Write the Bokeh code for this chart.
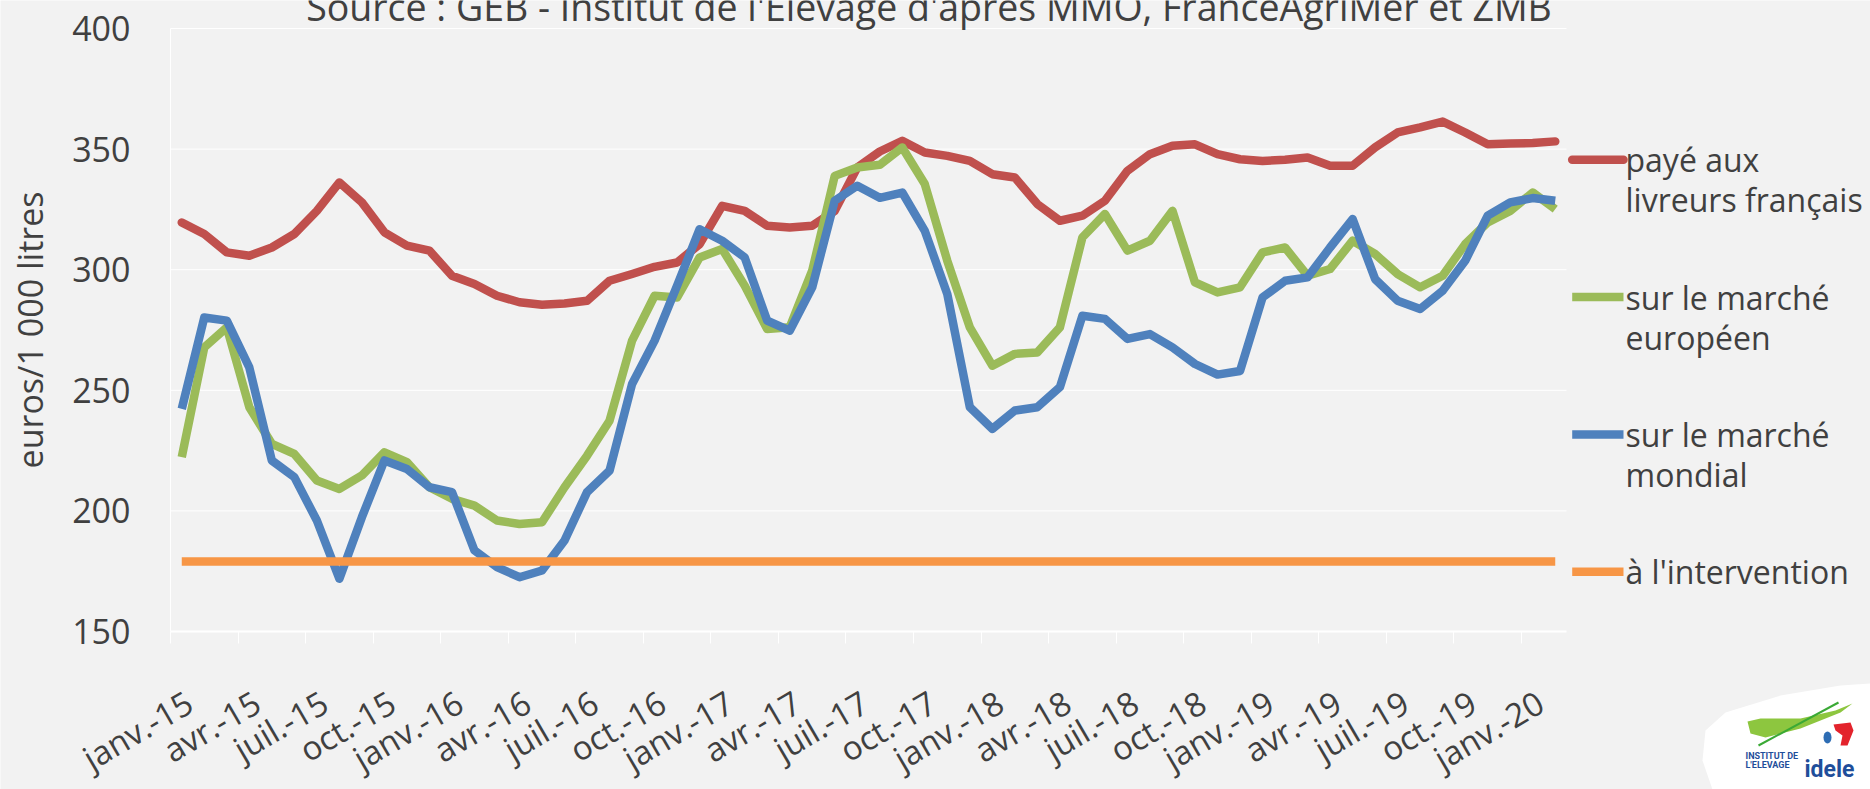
from bokeh.plotting import figure
from bokeh.models import Range1d, FixedTicker
from bokeh.core.properties import value
from bokeh.embed import file_html
from bokeh.resources import INLINE

# ---------------- data ----------------
tick_labels = ["janv.-15", "avr.-15", "juil.-15", "oct.-15",
               "janv.-16", "avr.-16", "juil.-16", "oct.-16",
               "janv.-17", "avr.-17", "juil.-17", "oct.-17",
               "janv.-18", "avr.-18", "juil.-18", "oct.-18",
               "janv.-19", "avr.-19", "juil.-19", "oct.-19",
               "janv.-20"]

paye_livreurs = [319.6, 314.8, 307.2, 305.8, 309.2, 314.8, 324.4, 336.2, 327.9, 315.5,
                 310.0, 307.9, 297.5, 294.1, 289.2, 286.5, 285.5, 286.0, 287.1, 295.4,
                 298.2, 301.2, 303.0, 310.6, 326.5, 324.4, 318.2, 317.5, 318.2, 324.4,
                 342.4, 349.0, 353.4, 348.6, 347.2, 345.1, 339.6, 338.2, 327.2, 320.3,
                 322.4, 328.6, 341.0, 347.9, 351.4, 352.0, 347.9, 345.8, 345.1, 345.6,
                 346.5, 343.1, 343.1, 350.7, 356.9, 359.0, 361.4, 356.9, 352.0, 352.3,
                 352.5, 353.2]

marche_europeen = [222.3, 267.8, 276.1, 243.0, 227.8, 223.6, 212.6, 209.1, 214.7, 224.3,
                   220.2, 209.8, 205.0, 202.2, 196.0, 194.6, 195.3, 209.8, 222.9, 237.4,
                   270.6, 289.2, 288.5, 305.1, 308.6, 293.4, 275.4, 276.1, 299.6, 338.9,
                   342.4, 343.5, 350.7, 335.5, 303.7, 276.1, 260.2, 265.1, 265.7, 276.1,
                   313.4, 323.1, 307.9, 312.0, 324.4, 294.7, 290.6, 292.7, 307.2, 309.2,
                   297.5, 300.3, 312.0, 306.5, 298.2, 292.7, 297.5, 310.6, 319.6, 324.4,
                   332.0, 325.1]

marche_mondial = [242.3, 280.2, 278.9, 259.5, 220.9, 214.0, 196.0, 171.9, 197.4, 220.9,
                  217.4, 209.8, 207.8, 183.6, 176.7, 172.5, 175.3, 187.7, 207.8, 216.7,
                  252.6, 270.6, 293.4, 316.8, 312.0, 305.1, 278.9, 274.7, 292.7, 328.6,
                  334.8, 329.8, 332.0, 316.1, 289.9, 243.0, 234.0, 241.6, 243.0, 251.3,
                  280.9, 279.6, 271.3, 273.3, 267.8, 260.9, 256.5, 258.0, 288.5, 295.4,
                  296.8, 309.2, 321.0, 296.1, 287.1, 283.7, 291.3, 303.7, 322.4, 327.9,
                  329.7, 328.6]

intervention = [179.0, 179.0, 179.0, 179.0, 179.0, 179.0, 179.0, 179.0, 179.0, 179.0,
                179.0, 179.0, 179.0, 179.0, 179.0, 179.0, 179.0, 179.0, 179.0, 179.0,
                179.0, 179.0, 179.0, 179.0, 179.0, 179.0, 179.0, 179.0, 179.0, 179.0,
                179.0, 179.0, 179.0, 179.0, 179.0, 179.0, 179.0, 179.0, 179.0, 179.0,
                179.0, 179.0, 179.0, 179.0, 179.0, 179.0, 179.0, 179.0, 179.0, 179.0,
                179.0, 179.0, 179.0, 179.0, 179.0, 179.0, 179.0, 179.0, 179.0, 179.0,
                179.0, 179.0]

legend_lines = [["payé aux", "livreurs français"],
                ["sur le marché", "européen"],
                ["sur le marché", "mondial"],
                [" à l'intervention"]]
y_ticks = [150, 200, 250, 300, 350, 400]
title_text = "Source : GEB - Institut de l'Elevage d'après MMO, FranceAgriMer et ZMB"
y_title = "euros/1 000 litres"

# ---------------- styling / layout ----------------
FONT = "Open Sans"
TXT = "#404040"
BG = "#F2F2F2"
RED, GREEN, BLUE, ORANGE = "#C0504D", "#9BBB59", "#4F81BD", "#F79646"
COLORS = [RED, GREEN, BLUE, ORANGE]
LW = 8.5
W, H = 1870, 789
n = len(paye_livreurs)
x = list(range(n))
YMIN, YMAX = y_ticks[0], y_ticks[-1]
LABEL_SHIFT = 0.35   # rotated month labels sit slightly right of the category centre

# plot area in page pixels
PL, PR, PT, PB = 170.0, 1566.0, 28.0, 631.0
def dx(px):
    return -0.5 + (px - PL) * n / (PR - PL)
def dy(py):
    return YMAX - (py - PT) * (YMAX - YMIN) / (PB - PT)

p = figure(width=W, height=H, output_backend="svg", toolbar_location=None,
           x_range=Range1d(dx(0), dx(W)), y_range=Range1d(dy(H), dy(0)),
           min_border=0, background_fill_color=BG, border_fill_color=BG,
           outline_line_color=None)
p.xgrid.visible = False
p.ygrid.visible = False

# x axis drawn at y = 150
label_pos = [k + LABEL_SHIFT for k in range(0, n, 3)]
p.xaxis.fixed_location = YMIN
p.xaxis.bounds = (-0.5, n - 0.5)
p.xaxis.ticker = FixedTicker(ticks=label_pos,
                             minor_ticks=[k - 0.5 for k in range(0, n - 1, 3)])
p.xaxis.major_label_overrides = {pos: lab for pos, lab in zip(label_pos, tick_labels)}
p.xaxis.major_label_orientation = 0.53
p.xaxis.major_label_text_font = FONT
p.xaxis.major_label_text_font_size = "33px"
p.xaxis.major_label_text_color = TXT
p.xaxis.major_label_standoff = 56
p.xaxis.major_tick_out = 0
p.xaxis.major_tick_in = 0
p.xaxis.minor_tick_out = 12
p.xaxis.minor_tick_in = 0
p.xaxis.minor_tick_line_color = "white"
p.xaxis.axis_line_color = "white"
p.xaxis.axis_line_width = 2

# y axis drawn at x = -0.5
p.yaxis.fixed_location = -0.5
p.yaxis.bounds = (YMIN, YMAX)
p.yaxis.ticker = FixedTicker(ticks=y_ticks)
p.yaxis.major_label_text_font = FONT
p.yaxis.major_label_text_font_size = "34px"
p.yaxis.major_label_text_color = TXT
p.yaxis.major_label_standoff = 40
p.yaxis.major_tick_out = 0
p.yaxis.major_tick_in = 0
p.yaxis.minor_tick_line_color = None
p.yaxis.axis_line_color = "white"
p.yaxis.axis_label = y_title
p.yaxis.axis_label_text_font = FONT
p.yaxis.axis_label_text_font_size = "34px"
p.yaxis.axis_label_text_font_style = "normal"
p.yaxis.axis_label_text_color = TXT
p.yaxis.axis_label_standoff = 16

# horizontal gridlines limited to the plot area
grid_y = y_ticks[1:]
p.segment(x0=[-0.5] * len(grid_y), y0=grid_y, x1=[n - 0.5] * len(grid_y), y1=grid_y,
          line_color="white", line_width=1)

# series
p.line(x, paye_livreurs, line_color=RED, line_width=LW, line_cap="round", line_join="round")
p.line(x, marche_europeen, line_color=GREEN, line_width=LW, line_join="round")
p.line(x, marche_mondial, line_color=BLUE, line_width=LW, line_join="round")
p.line(x, intervention, line_color=ORANGE, line_width=LW)

# source line, cut at the top edge as in the original
p.text(x=[dx(928.5)], y=[dy(5.7)], text=[title_text], text_font=value(FONT),
       text_font_size="37.5px", text_color=TXT, text_align="center",
       text_baseline="alphabetic")

# legend (right side)
key_x0, key_x1, text_x = 1571.7, 1623.0, 1625.0
first_y, step, line_gap = 159.3, 137.3, 40.0
for k, (col, lines) in enumerate(zip(COLORS, legend_lines)):
    yk = first_y + step * k
    p.line([dx(key_x0), dx(key_x1)], [dy(yk), dy(yk)], line_color=col, line_width=LW,
           line_cap="round" if k == 0 else "butt")
    p.text(x=[dx(text_x)] * len(lines), y=[dy(yk + line_gap * j) for j in range(len(lines))],
           text=lines, text_font=value(FONT), text_font_size="32px",
           text_color=TXT, text_baseline="middle", text_align="left")

# logo (bottom right)
def poly(pxs, pys, color):
    p.patch([dx(v) for v in pxs], [dy(v) for v in pys], fill_color=color, line_color=None)

poly([1712, 1702, 1705, 1725, 1780, 1840, 1870, 1870], [789, 760, 730, 712, 695, 685, 683, 789], "white")
poly([1747, 1760, 1800, 1835, 1852, 1840, 1800, 1765, 1750],
     [721, 718, 718, 710, 703, 712, 728, 737, 733], "#8DC63F")
p.line([dx(1758), dx(1838)], [dy(745), dy(702)], line_color="#3AA935", line_width=2)
poly([1833, 1850, 1853, 1847, 1840, 1842, 1835], [724, 722, 730, 745, 745, 735, 730], "#E3232C")
p.ellipse(x=[dx(1827)], y=[dy(737)], width=dx(1835) - dx(1827), height=dy(725) - dy(737),
          fill_color="#2E6DB4", line_color=None)
p.text(x=[dx(1745)] * 2, y=[dy(755), dy(764)], text=["INSTITUT DE", "L'ELEVAGE"],
       text_font=value("Roboto"), text_font_size="9px", text_font_style="bold",
       text_color="#1F4E9A", text_baseline="middle")
p.text(x=[dx(1804)], y=[dy(769)], text=["idele"], text_font=value("Roboto"),
       text_font_size="23px", text_font_style="bold", text_color="#1F4E9A",
       text_baseline="alphabetic")

open("out.html", "w").write(file_html(p, INLINE))
